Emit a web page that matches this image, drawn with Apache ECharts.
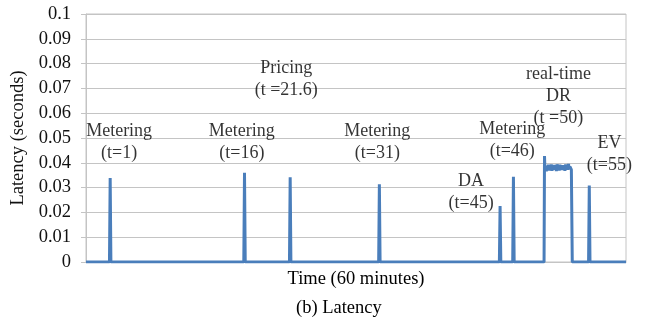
<!DOCTYPE html>
<html>
<head>
<meta charset="utf-8">
<script src="https://cdn.jsdelivr.net/npm/echarts@6/dist/echarts.min.js"></script>
<style>
  html, body { margin: 0; padding: 0; background: #fff; }
  #chart { width: 649px; height: 318px; }
</style>
</head>
<body>
<div id="chart"></div>
<script>
// latency trace, time in minutes, latency in seconds
const spikeTimes = [1.0, 16.0, 21.1, 31.06, 44.54, 46.03, 54.5];
const spikeValues = [0.0339, 0.036, 0.0342, 0.0313, 0.0226, 0.0344, 0.0308];

// real-time DR block (plateau with jitter)
const drTimes = [49.45, 49.5, 49.55, 49.62, 49.7, 49.78, 49.86, 49.94, 50.02, 50.1, 50.18, 50.26,
  50.34, 50.42, 50.5, 50.58, 50.66, 50.74, 50.82, 50.9, 50.98, 51.06, 51.14, 51.22, 51.3, 51.38,
  51.46, 51.54, 51.62, 51.7, 51.78, 51.86, 51.94, 52.02, 52.1, 52.18, 52.26, 52.34, 52.42, 52.5,
  52.56, 52.6];
const drValues = [0, 0.0427, 0.0372, 0.0385, 0.0366, 0.0388, 0.0374, 0.0392, 0.0369, 0.0386, 0.0377,
  0.0393, 0.0368, 0.0389, 0.0375, 0.0391, 0.0372, 0.0387, 0.0367, 0.0394, 0.0374, 0.0383, 0.0369,
  0.0392, 0.0376, 0.0388, 0.0371, 0.039, 0.0373, 0.0386, 0.0368, 0.0393, 0.0377, 0.0389, 0.0372,
  0.0395, 0.0375, 0.0384, 0.0378, 0.0372, 0.0365, 0];

const yTicks = [0, 0.01, 0.02, 0.03, 0.04, 0.05, 0.06, 0.07, 0.08, 0.09, 0.1];

const notes = ['Metering\n(t=1)', 'Metering\n(t=16)', 'Pricing\n(t =21.6)', 'Metering\n(t=31)',
  'DA\n(t=45)', 'Metering\n(t=46)', 'real-time\nDR\n(t =50)', 'EV\n(t=55)'];
const noteX = [2.0, 15.7, 20.66, 30.83, 41.3, 45.9, 51.05, 56.75];
const noteY = [0.0484, 0.0484, 0.0736, 0.0484, 0.028, 0.049, 0.0667, 0.0433];

// build the line points
const points = [[-1.7, 0]];
spikeTimes.forEach((t, i) => {
    if (t > 49 && points[points.length - 1][0] < 49.45) {
        drTimes.forEach((d, j) => points.push([d, drValues[j]]))
    }
    points.push([t - 0.08, 0]);
    points.push([t, spikeValues[i]]);
    points.push([t + 0.08, 0]);
})
points.push([58.6, 0]);

const serif = "'Liberation Serif', 'Times New Roman', serif";
const chart = echarts.init(document.getElementById('chart'));

chart.setOption({
    animation: false,
    title: {
        text: '(b) Latency',
        left: 291,
        top: 294,
        textStyle: {fontFamily: serif, fontSize: 18.5, fontWeight: 'normal', color: '#000'}
    },
    grid: {
        left: 86, right: 23, top: 14, bottom: 56,
        show: true,
        borderColor: '#c4c4c4',
        borderWidth: 1
    },
    xAxis: {
        type: 'value',
        min: -1.7,
        max: 58.6,
        name: 'Time (60 minutes)',
        nameLocation: 'middle',
        nameGap: 8,
        nameTextStyle: {fontFamily: serif, fontSize: 18.5, color: '#000'},
        axisLine: {show: true, onZero: false, lineStyle: {color: '#c4c4c4'}},
        axisTick: {show: false},
        axisLabel: {show: false},
        splitLine: {show: false}
    },
    yAxis: {
        type: 'value',
        min: 0,
        max: 0.1,
        interval: 0.01,
        name: 'Latency (seconds)',
        nameLocation: 'middle',
        nameGap: 54,
        nameTextStyle: {fontFamily: serif, fontSize: 18.5, color: '#111'},
        axisLine: {show: true, onZero: false, lineStyle: {color: '#c4c4c4'}},
        axisTick: {show: true, length: 5, lineStyle: {color: '#c4c4c4'}},
        axisLabel: {
            margin: 15,
            fontFamily: serif,
            fontSize: 18.5,
            color: '#111',
            formatter: v => {
                const k = yTicks.findIndex(t => Math.abs(t - v) < 1e-9);
                return k >= 0 ? String(yTicks[k]) : '';
            }
        },
        splitLine: {show: true, lineStyle: {color: '#c4c4c4'}}
    },
    series: [
        {
            type: 'line',
            data: points,
            symbol: 'none',
            lineStyle: {color: '#4a7ebb', width: 3},
            z: 3
        },
        {
            type: 'scatter',
            data: noteX.map((x, i) => [x, noteY[i], notes[i]]),
            symbolSize: 1,
            itemStyle: {color: 'rgba(0,0,0,0)'},
            silent: true,
            label: {
                show: true,
                position: 'inside',
                formatter: p => p.data[2],
                fontFamily: serif,
                fontSize: 18,
                lineHeight: 22,
                color: '#000'
            },
            z: 4
        }
    ]
});
</script>
</body>
</html>
